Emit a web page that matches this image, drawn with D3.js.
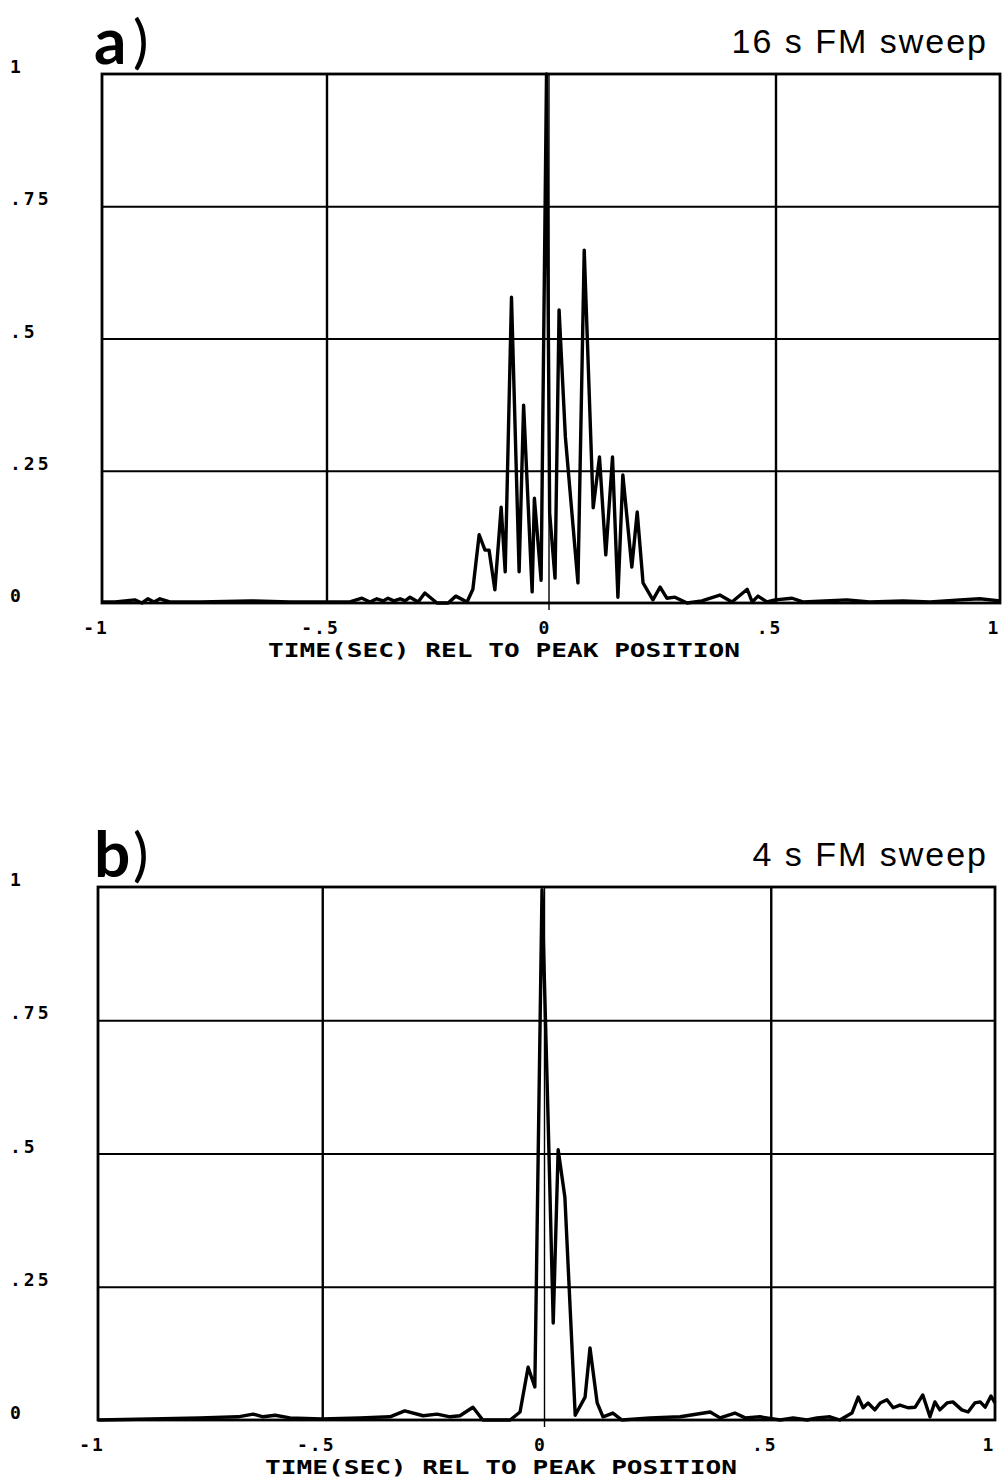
<!DOCTYPE html>
<html>
<head>
<meta charset="utf-8">
<script src="https://cdn.jsdelivr.net/npm/d3@7"></script>
<style>
  body { margin: 0; background: #fff; }
  svg { display: block; }
</style>
</head>
<body>
<div id="chart"></div>
<script>
// tick values / labels shared by both panels
var xTicks = [-1, -0.5, 0, 0.5, 1];
var xTickLabels = ["-1", "-.5", "0", ".5", "1"];
var yTicks = [0, 0.25, 0.5, 0.75, 1];
var yTickLabels = ["0", ".25", ".5", ".75", "1"];
var xTitle = "TIME(SEC) REL TO PEAK POSITION";

// panel a) 16 s FM sweep : [time, amplitude]
var sweep16 = [
  [-1, 0.002], [-0.971, 0.002], [-0.927, 0.006], [-0.911, 0], [-0.898, 0.008],
  [-0.884, 0.002], [-0.871, 0.008], [-0.849, 0.002], [-0.782, 0.002], [-0.67, 0.004],
  [-0.581, 0.002], [-0.501, 0.002], [-0.448, 0.002], [-0.421, 0.009], [-0.403, 0.002],
  [-0.388, 0.008], [-0.374, 0.004], [-0.363, 0.009], [-0.35, 0.004], [-0.336, 0.008],
  [-0.325, 0.004], [-0.314, 0.011], [-0.296, 0.002], [-0.281, 0.019], [-0.254, 0],
  [-0.229, 0], [-0.212, 0.013], [-0.187, 0.002], [-0.174, 0.026], [-0.16, 0.129],
  [-0.147, 0.1], [-0.138, 0.1], [-0.125, 0.025], [-0.111, 0.181], [-0.102, 0.059],
  [-0.088, 0.578], [-0.071, 0.059], [-0.061, 0.374], [-0.042, 0.021], [-0.037, 0.198],
  [-0.022, 0.043], [-0.01, 1.0], [-0.003, 0.17], [0.009, 0.047], [0.018, 0.554],
  [0.032, 0.314], [0.06, 0.038], [0.074, 0.667], [0.094, 0.18], [0.108, 0.276],
  [0.122, 0.091], [0.137, 0.276], [0.149, 0.011], [0.16, 0.242], [0.18, 0.068],
  [0.192, 0.172], [0.205, 0.038], [0.227, 0.006], [0.243, 0.03], [0.258, 0.009],
  [0.276, 0.011], [0.303, 0], [0.336, 0.004], [0.376, 0.015], [0.403, 0.002],
  [0.437, 0.026], [0.448, 0.002], [0.461, 0.013], [0.481, 0.002], [0.499, 0.006],
  [0.537, 0.009], [0.561, 0.002], [0.659, 0.006], [0.71, 0.002], [0.784, 0.004],
  [0.844, 0.002], [0.911, 0.006], [0.955, 0.008], [1, 0.004]
];

// panel b) 4 s FM sweep : [time, amplitude]
var sweep4 = [
  [-1, 0], [-0.884, 0.002], [-0.773, 0.004], [-0.688, 0.006], [-0.654, 0.011],
  [-0.632, 0.006], [-0.605, 0.009], [-0.572, 0.004], [-0.501, 0.002], [-0.416, 0.004],
  [-0.349, 0.006], [-0.316, 0.017], [-0.275, 0.008], [-0.244, 0.011], [-0.215, 0.006],
  [-0.193, 0.008], [-0.164, 0.024], [-0.142, 0], [-0.081, 0], [-0.059, 0.015],
  [-0.041, 0.099], [-0.026, 0.062], [-0.01, 0.995], [0.004, 0.55], [0.015, 0.182],
  [0.026, 0.507], [0.041, 0.418], [0.064, 0.009], [0.086, 0.043], [0.097, 0.135],
  [0.113, 0.032], [0.126, 0.006], [0.148, 0.013], [0.168, 0], [0.231, 0.004],
  [0.298, 0.006], [0.365, 0.015], [0.387, 0.004], [0.42, 0.013], [0.443, 0.004],
  [0.476, 0.006], [0.521, 0], [0.55, 0.004], [0.581, 0], [0.603, 0.004],
  [0.632, 0.006], [0.654, 0], [0.681, 0.013], [0.695, 0.043], [0.706, 0.023],
  [0.717, 0.032], [0.732, 0.019], [0.744, 0.032], [0.759, 0.038], [0.773, 0.023],
  [0.788, 0.028], [0.806, 0.023], [0.822, 0.024], [0.839, 0.047], [0.855, 0.006],
  [0.866, 0.034], [0.877, 0.019], [0.893, 0.032], [0.906, 0.034], [0.926, 0.019],
  [0.94, 0.015], [0.955, 0.032], [0.967, 0.034], [0.978, 0.024], [0.991, 0.045],
  [1, 0.032]
];

var svg = d3.select("#chart")
    .append("svg")
    .attr("width", 1008)
    .attr("height", 1481);

// draw one panel
function drawPanel(p) {
    var x = d3.scaleLinear().domain([-1, 1]).range([p.left, p.right]);
    var y = d3.scaleLinear().domain([0, 1]).range([p.bottom, p.top]);
    var g = svg.append("g");

    // horizontal grid
    g.append("g")
        .attr("transform", "translate(" + p.left + ",0)")
        .call(d3.axisRight(y).tickValues([0.25, 0.5, 0.75]).tickSize(p.right - p.left).tickFormat(""))
        .call(function (a) { a.select(".domain").remove(); })
        .selectAll("line").attr("stroke", "#000").attr("stroke-width", 2.2);

    // vertical grid
    g.append("g")
        .attr("transform", "translate(0," + p.top + ")")
        .call(d3.axisBottom(x).tickValues([-0.5, 0.5]).tickSize(p.bottom - p.top).tickFormat(""))
        .call(function (a) { a.select(".domain").remove(); })
        .selectAll("line").attr("stroke", "#000").attr("stroke-width", 2.4);

    // thin zero line with small tick below the axis
    g.append("line")
        .attr("x1", x(0) - 2).attr("x2", x(0) - 2)
        .attr("y1", p.top).attr("y2", p.bottom + 7)
        .attr("stroke", "#000").attr("stroke-width", 1.4);

    // frame
    g.append("rect")
        .attr("x", p.left).attr("y", p.top)
        .attr("width", p.right - p.left).attr("height", p.bottom - p.top)
        .attr("fill", "none").attr("stroke", "#000").attr("stroke-width", 2.8);

    // the trace
    var line = d3.line()
        .x(function (d) { return x(d[0]); })
        .y(function (d) { return y(d[1]); });
    g.append("path")
        .datum(p.data)
        .attr("d", line)
        .attr("fill", "none")
        .attr("stroke", "#000")
        .attr("stroke-width", 3.4)
        .attr("stroke-linejoin", "round");

    // y labels (plotter style, left of frame)
    g.selectAll(".ylab")
        .data(yTicks)
        .enter().append("text")
        .attr("x", 10)
        .attr("y", function (d) { return y(d) - 1; })
        .attr("font-family", "DejaVu Sans Mono")
        .attr("font-weight", "bold")
        .attr("font-size", 18)
        .attr("letter-spacing", 3)
        .text(function (d, i) { return yTickLabels[i]; });

    // x labels
    g.selectAll(".xlab")
        .data(xTicks)
        .enter().append("text")
        .attr("x", function (d) { return x(d) - 6; })
        .attr("y", p.bottom + 31)
        .attr("text-anchor", "middle")
        .attr("font-family", "DejaVu Sans Mono")
        .attr("font-weight", "bold")
        .attr("font-size", 18)
        .attr("letter-spacing", 2)
        .text(function (d, i) { return xTickLabels[i]; });

    g.append("text")
        .attr("x", p.titleX)
        .attr("y", p.bottom + 54)
        .attr("textLength", 472)
        .attr("lengthAdjust", "spacingAndGlyphs")
        .attr("font-family", "DejaVu Sans Mono")
        .attr("font-weight", "bold")
        .attr("font-size", 20)
        .text(xTitle);

    // panel letter
    g.append("text")
        .attr("x", 94)
        .attr("y", p.top - 10)
        .attr("font-family", "Lato")
        .attr("font-weight", "bold")
        .attr("font-size", 64)
        .text(p.letter.charAt(0));
    g.append("text")
        .attr("x", 133)
        .attr("y", p.top - 12)
        .attr("font-family", "Lato")
        .attr("font-size", 58)
        .text(")");

    // sweep caption
    g.append("text")
        .attr("x", 988)
        .attr("y", p.top - 21)
        .attr("text-anchor", "end")
        .attr("font-family", "Liberation Sans")
        .attr("font-size", 34)
        .attr("letter-spacing", 2)
        .text(p.caption);
}

drawPanel({ left: 102, right: 1000, top: 74, bottom: 603, data: sweep16,
            letter: "a)", caption: "16 s FM sweep", titleX: 268 });
drawPanel({ left: 98, right: 995, top: 887, bottom: 1420, data: sweep4,
            letter: "b)", caption: "4 s FM sweep", titleX: 265 });
</script>
</body>
</html>
